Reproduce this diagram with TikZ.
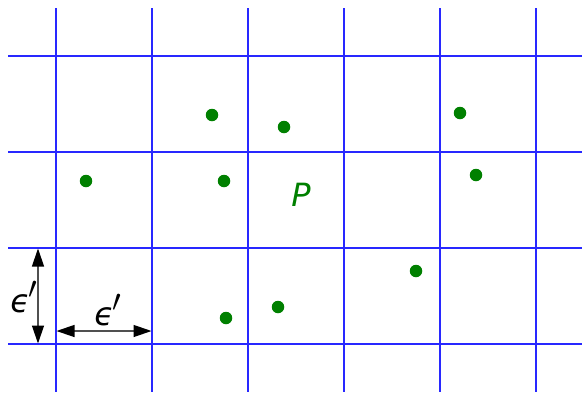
\documentclass[tikz,border=0pt]{standalone}
\usepackage{fontspec}
\setmainfont{DejaVu Sans}
\newfontfamily\lblfont{DejaVu Sans}
\usetikzlibrary{arrows.meta}
\definecolor{ptgreen}{RGB}{0,128,0}
\tikzset{
  gridline/.style={draw={rgb,255:red,40;green,40;blue,255}, line width=1.3pt},
  pt/.style={circle, fill=ptgreen, inner sep=0pt, minimum size=12.5pt},
  dimarrow/.style={draw={rgb,255:red,80;green,80;blue,80}, line width=1.3pt, {Triangle[length=18pt,width=12pt,color=black]}-{Triangle[length=18pt,width=12pt,color=black]}},
  lbl/.style={font=\lblfont\fontsize{32}{36}\selectfont\itshape}
}
\newcommand{\epsprime}{ϵ\kern-1.5pt\scalebox{1.5}{$'$}}
\begin{document}
\begin{tikzpicture}[x=1pt,y=-1pt]
\useasboundingbox (0,0) rectangle (582,392);
\foreach \x in {56,152,248,344,440,536} {
  \coordinate (vt\x) at (\x,8);
  \coordinate (vb\x) at (\x,392);
  \draw[gridline] (vt\x) -- (vb\x);
}
\foreach \y in {56,152,248,344} {
  \coordinate (hl\y) at (8,\y);
  \coordinate (hr\y) at (582,\y);
  \draw[gridline] (hl\y) -- (hr\y);
}
\node[pt] (p1) at (212,115) {};
\node[pt] (p2) at (284,127) {};
\node[pt] (p3) at (460,113) {};
\node[pt] (p4) at (86,181) {};
\node[pt] (p5) at (224,181) {};
\node[pt] (p6) at (476,175) {};
\node[pt] (p7) at (416,271) {};
\node[pt] (p8) at (278,307) {};
\node[pt] (p9) at (226,318) {};
\node[lbl, text=ptgreen] (P) at (301,195) {P};
\coordinate (va) at (38,248.5);
\coordinate (vb) at (38,343.5);
\draw[dimarrow] (va) -- (vb);
\coordinate (ha) at (56.5,331);
\coordinate (hb) at (151.5,331);
\draw[dimarrow] (ha) -- (hb);
\node[lbl] (e1) at (24,297) {\epsprime};
\node[lbl] (e2) at (108,310) {\epsprime};
\end{tikzpicture}
\end{document}
